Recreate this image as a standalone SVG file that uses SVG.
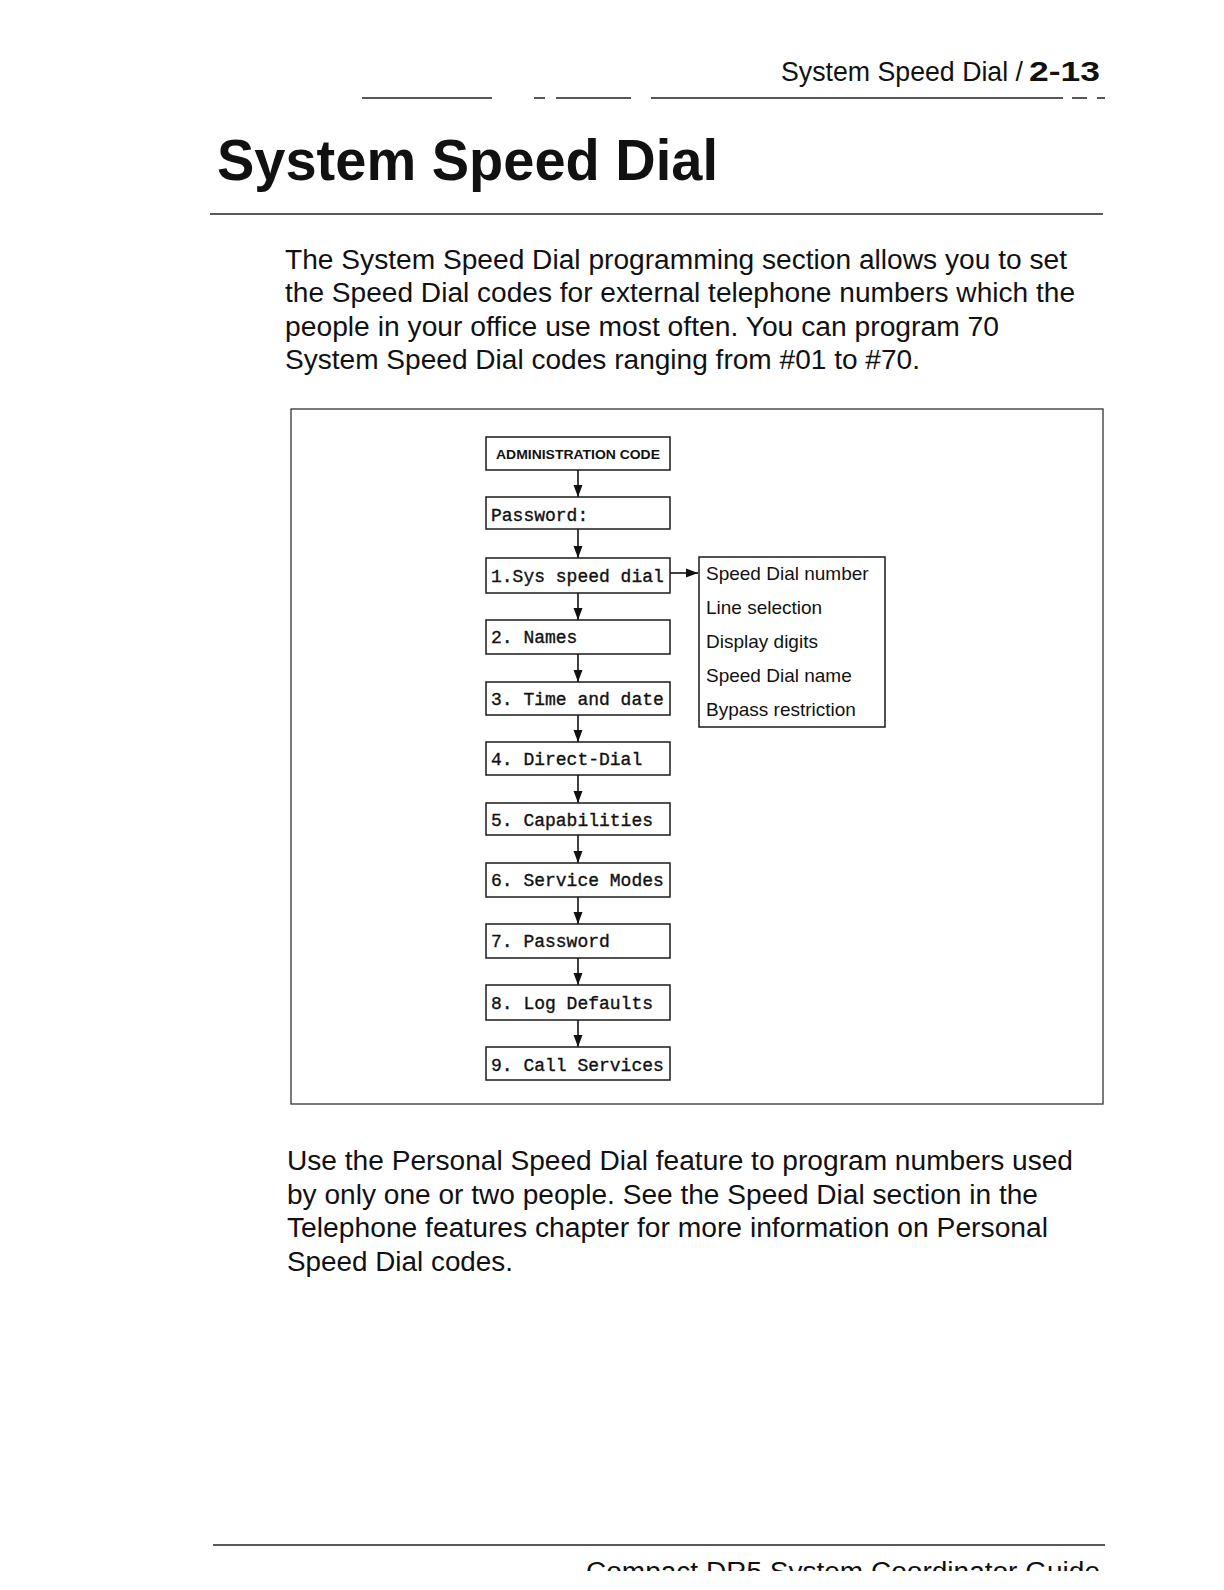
<svg xmlns="http://www.w3.org/2000/svg" width="1224" height="1590" viewBox="0 0 1224 1590">
<defs>
<style>
.bg{fill:#fff}
.box{fill:#fff;stroke:#1a1a1a;stroke-width:1.5}
.lcd{font-family:"Liberation Mono","DejaVu Sans Mono",monospace;font-size:18px;fill:#111;stroke:#111;stroke-width:0.35}
.adm{font-family:"Liberation Sans",Arial,sans-serif;font-weight:bold;font-size:13px;fill:#111}
.opt{font-family:"Liberation Sans",Arial,sans-serif;font-size:19px;fill:#111}
.body{font-family:"Liberation Sans",Arial,sans-serif;font-size:27px;fill:#111}
.rule{stroke:#222;stroke-width:1.4;fill:none}
.conn{stroke:#111;stroke-width:1.6;fill:none}
</style>
<marker id="ah" viewBox="0 0 12 10" refX="12" refY="5" markerWidth="12" markerHeight="10" markerUnits="userSpaceOnUse" orient="auto">
<path d="M0,0.5 L12,5 L0,9.5 Z" fill="#111"/>
</marker>
<clipPath id="footclip"><rect x="0" y="0" width="1224" height="1571"/></clipPath>
</defs>
<rect class="bg" x="0" y="0" width="1224" height="1590"/>

<g id="header">
<text class="body" x="781" y="81" textLength="242" lengthAdjust="spacingAndGlyphs">System Speed Dial /</text>
<text x="1029" y="81" font-family="'Liberation Sans',Arial,sans-serif" font-size="27" font-weight="bold" fill="#111" textLength="71" lengthAdjust="spacingAndGlyphs">2-13</text>
<path class="rule" d="M362,98 H492 M534,98 H545 M556,98 H631 M651,98 H1063 M1072,98 H1087 M1097,98 H1105"/>
</g>

<g id="title">
<text x="217" y="180" font-family="'Liberation Sans',Arial,sans-serif" font-weight="bold" font-size="58" fill="#111" textLength="501" lengthAdjust="spacingAndGlyphs">System Speed Dial</text>
<path class="rule" d="M210,214 H1103"/>
</g>

<g id="intro">
<text class="body" x="285" y="269" textLength="782" lengthAdjust="spacingAndGlyphs">The System Speed Dial programming section allows you to set</text>
<text class="body" x="285" y="302" textLength="790" lengthAdjust="spacingAndGlyphs">the Speed Dial codes for external telephone numbers which the</text>
<text class="body" x="285" y="336" textLength="714" lengthAdjust="spacingAndGlyphs">people in your office use most often. You can program 70</text>
<text class="body" x="285" y="369" textLength="635" lengthAdjust="spacingAndGlyphs">System Speed Dial codes ranging from #01 to #70.</text>
</g>

<rect id="frame" x="291" y="409" width="812" height="695" fill="none" stroke="#333" stroke-width="1.3"/>

<g id="connectors">
<line class="conn" x1="578" y1="470" x2="578" y2="497" marker-end="url(#ah)"/>
<line class="conn" x1="578" y1="529" x2="578" y2="558" marker-end="url(#ah)"/>
<line class="conn" x1="578" y1="593" x2="578" y2="620" marker-end="url(#ah)"/>
<line class="conn" x1="578" y1="654" x2="578" y2="682" marker-end="url(#ah)"/>
<line class="conn" x1="578" y1="715" x2="578" y2="742" marker-end="url(#ah)"/>
<line class="conn" x1="578" y1="775" x2="578" y2="803" marker-end="url(#ah)"/>
<line class="conn" x1="578" y1="835" x2="578" y2="863" marker-end="url(#ah)"/>
<line class="conn" x1="578" y1="897" x2="578" y2="924" marker-end="url(#ah)"/>
<line class="conn" x1="578" y1="958" x2="578" y2="985" marker-end="url(#ah)"/>
<line class="conn" x1="578" y1="1020" x2="578" y2="1047" marker-end="url(#ah)"/>
<line class="conn" x1="670" y1="573" x2="698" y2="573" marker-end="url(#ah)"/>
</g>

<g id="n-admin"><rect class="box" x="486" y="437" width="184" height="33"/><text class="adm" x="496" y="459" textLength="164" lengthAdjust="spacingAndGlyphs">ADMINISTRATION CODE</text></g>
<g id="n-password"><rect class="box" x="486" y="497" width="184" height="32"/><text class="lcd" x="491" y="521">Password:</text></g>
<g id="n-sys"><rect class="box" x="486" y="558" width="184" height="35"/><text class="lcd" x="491" y="582">1.Sys speed dial</text></g>
<g id="n-names"><rect class="box" x="486" y="620" width="184" height="34"/><text class="lcd" x="491" y="643">2. Names</text></g>
<g id="n-time"><rect class="box" x="486" y="682" width="184" height="33"/><text class="lcd" x="491" y="705">3. Time and date</text></g>
<g id="n-direct"><rect class="box" x="486" y="742" width="184" height="33"/><text class="lcd" x="491" y="765">4. Direct-Dial</text></g>
<g id="n-cap"><rect class="box" x="486" y="803" width="184" height="32"/><text class="lcd" x="491" y="826">5. Capabilities</text></g>
<g id="n-service"><rect class="box" x="486" y="863" width="184" height="34"/><text class="lcd" x="491" y="886">6. Service Modes</text></g>
<g id="n-pw7"><rect class="box" x="486" y="924" width="184" height="34"/><text class="lcd" x="491" y="947">7. Password</text></g>
<g id="n-log"><rect class="box" x="486" y="985" width="184" height="35"/><text class="lcd" x="491" y="1009">8. Log Defaults</text></g>
<g id="n-call"><rect class="box" x="486" y="1047" width="184" height="33"/><text class="lcd" x="491" y="1071">9. Call Services</text></g>

<g id="n-options">
<rect class="box" x="699" y="557" width="186" height="170"/>
<text class="opt" x="706" y="580">Speed Dial number</text>
<text class="opt" x="706" y="614">Line selection</text>
<text class="opt" x="706" y="648">Display digits</text>
<text class="opt" x="706" y="682">Speed Dial name</text>
<text class="opt" x="706" y="716">Bypass restriction</text>
</g>

<g id="outro">
<text class="body" x="287" y="1170" textLength="786" lengthAdjust="spacingAndGlyphs">Use the Personal Speed Dial feature to program numbers used</text>
<text class="body" x="287" y="1204" textLength="751" lengthAdjust="spacingAndGlyphs">by only one or two people. See the Speed Dial section in the</text>
<text class="body" x="287" y="1237" textLength="761" lengthAdjust="spacingAndGlyphs">Telephone features chapter for more information on Personal</text>
<text class="body" x="287" y="1271" textLength="226" lengthAdjust="spacingAndGlyphs">Speed Dial codes.</text>
</g>

<g id="footer">
<path class="rule" d="M213,1545 H1105"/>
<text class="body" x="586" y="1581" clip-path="url(#footclip)" textLength="514" lengthAdjust="spacingAndGlyphs">Compact DR5 System Coordinator Guide</text>
</g>
</svg>
